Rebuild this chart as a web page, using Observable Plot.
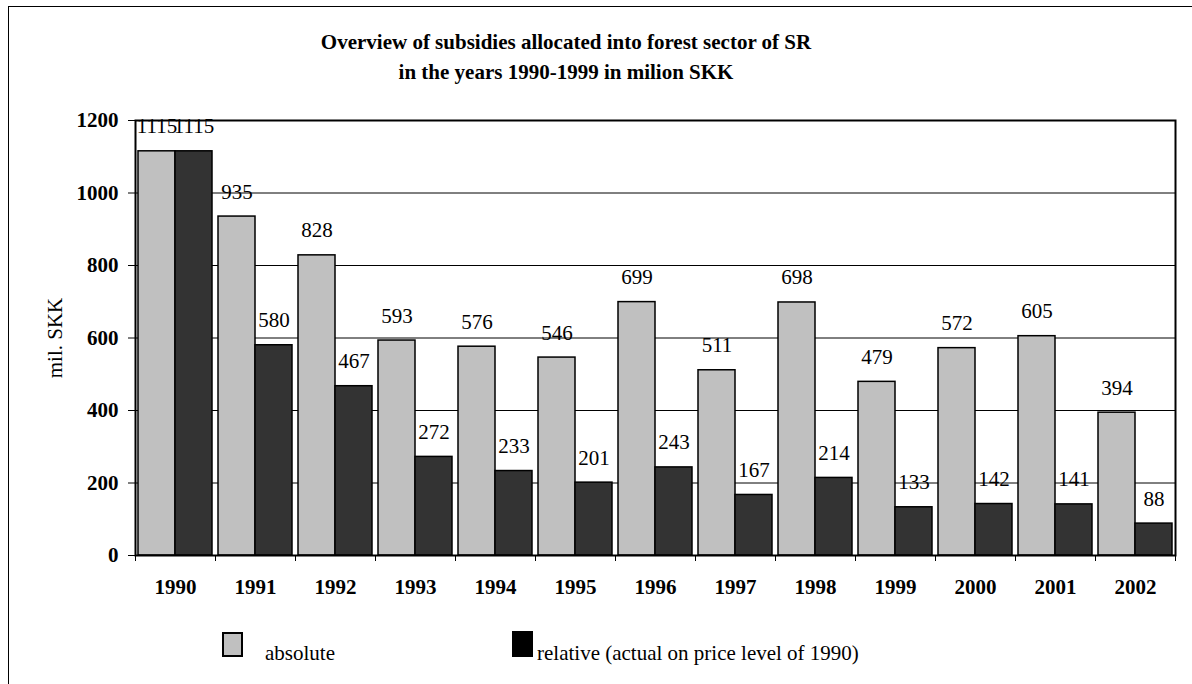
<!DOCTYPE html>
<html><head><meta charset="utf-8">
<script src="https://cdn.jsdelivr.net/npm/d3@7"></script>
<script src="https://cdn.jsdelivr.net/npm/@observablehq/plot@0.6"></script>
<style>
body{margin:0;background:#fff;font-family:"Liberation Serif","Times New Roman",serif;color:#000;}
#wrap{position:relative;width:1192px;height:684px;overflow:hidden;}
#border{position:absolute;left:8px;top:6px;width:1300px;height:800px;border-left:1px solid #000;border-top:1px solid #000;pointer-events:none;}
#title{height:100px;box-sizing:border-box;padding-top:27px;width:1132px;text-align:center;font-weight:bold;font-size:21px;line-height:30px;}
#chart svg{display:block;}
#legend{position:relative;height:74px;font-size:21px;}
.sw{position:absolute;box-sizing:border-box;}
.lt{position:absolute;line-height:1;white-space:nowrap;}
</style>
</head><body>
<div id="wrap">
<div id="border"></div>
<div id="title"><div>Overview of subsidies allocated into forest sector of SR</div><div>in the years 1990-1999 in milion SKK</div></div>
<div id="chart"></div>
<div id="legend"></div>
</div>
<script>
const years = ["1990","1991","1992","1993","1994","1995","1996","1997","1998","1999","2000","2001","2002"];
const absolute = [1115, 935, 828, 593, 576, 546, 699, 511, 698, 479, 572, 605, 394];
const relative = [1115, 580, 467, 272, 233, 201, 243, 167, 214, 133, 142, 141, 88];
const yTicks = [0, 200, 400, 600, 800, 1000, 1200];
const seriesNames = ["absolute", "relative (actual on price level of 1990)"];
const seriesColors = ["#c0c0c0", "#333333"];
const legendColors = ["#c0c0c0", "#000000"];
const yTitle = "mil. SKK";

const rows = years.map((y, i) => ({year: y, absolute: absolute[i], relative: relative[i]}));

const W = 1192, H = 510, mL = 135, mR = 17, mT = 20, mB = 55;
const pad = 0.075;
const step = (W - mL - mR) / years.length;
const bw = step * (1 - pad);
const half = bw / 2;
const font = "'Liberation Serif','Times New Roman',serif";

const chart = Plot.plot({
  width: W, height: H,
  marginLeft: mL, marginRight: mR, marginTop: mT, marginBottom: mB,
  style: {fontFamily: font, fontSize: "21px", background: "transparent", color: "#000", overflow: "visible"},
  x: {domain: years, paddingInner: pad, paddingOuter: pad / 2, align: 0.5, round: false},
  y: {domain: [0, 1200]},
  marks: [
    Plot.gridY({ticks: yTicks.filter(v => v > 0 && v < 1200), stroke: "#000", strokeOpacity: 1, strokeWidth: 1}),
    Plot.barY(rows, {x: "year", y: "absolute", fill: seriesColors[0], stroke: "#000", strokeWidth: 1.5, insetRight: half}),
    Plot.barY(rows, {x: "year", y: "relative", fill: seriesColors[1], stroke: "#000", strokeWidth: 1.5, insetLeft: half}),
    Plot.text(rows, {x: "year", y: "absolute", text: d => String(d.absolute), dx: -half / 2, dy: -18, lineAnchor: "bottom", textAnchor: "middle", fontSize: 21}),
    Plot.text(rows, {x: "year", y: "relative", text: d => String(d.relative), dx: half / 2, dy: -18, lineAnchor: "bottom", textAnchor: "middle", fontSize: 21}),
    Plot.frame({stroke: "#000", strokeWidth: 2}),
    Plot.axisY({ticks: yTicks, tickSize: 7, tickPadding: 10, fontWeight: "bold", label: null, tickFormat: d => String(d)}),
    Plot.axisX({tickSize: 0, tickPadding: 24, fontWeight: "bold", label: null}),
    Plot.axisX({tickSize: 6, tickFormat: () => "", dx: step / 2, label: null}),
    Plot.axisX({tickSize: 6, tickFormat: () => "", dx: -step / 2, label: null}),
    Plot.text([yTitle], {frameAnchor: "left", rotate: -90, dx: -80, fontSize: 21, textAnchor: "middle", lineAnchor: "middle"})
  ]
});
document.getElementById("chart").appendChild(chart);

const legend = document.getElementById("legend");
const legendItems = [
  {sx: 222, sy: 22, sw: 21, sh: 25, border: "2px solid #000", tx: 265},
  {sx: 512, sy: 21, sw: 21, sh: 26, border: "none", tx: 537}
];
seriesNames.forEach((name, i) => {
  const it = legendItems[i];
  const s = document.createElement("div");
  s.className = "sw";
  s.style.cssText = `left:${it.sx}px;top:${it.sy}px;width:${it.sw}px;height:${it.sh}px;background:${legendColors[i]};border:${it.border};`;
  legend.appendChild(s);
  const t = document.createElement("div");
  t.className = "lt";
  t.style.cssText = `left:${it.tx}px;top:${33}px;`;
  t.textContent = name;
  legend.appendChild(t);
});
</script>
</body></html>
